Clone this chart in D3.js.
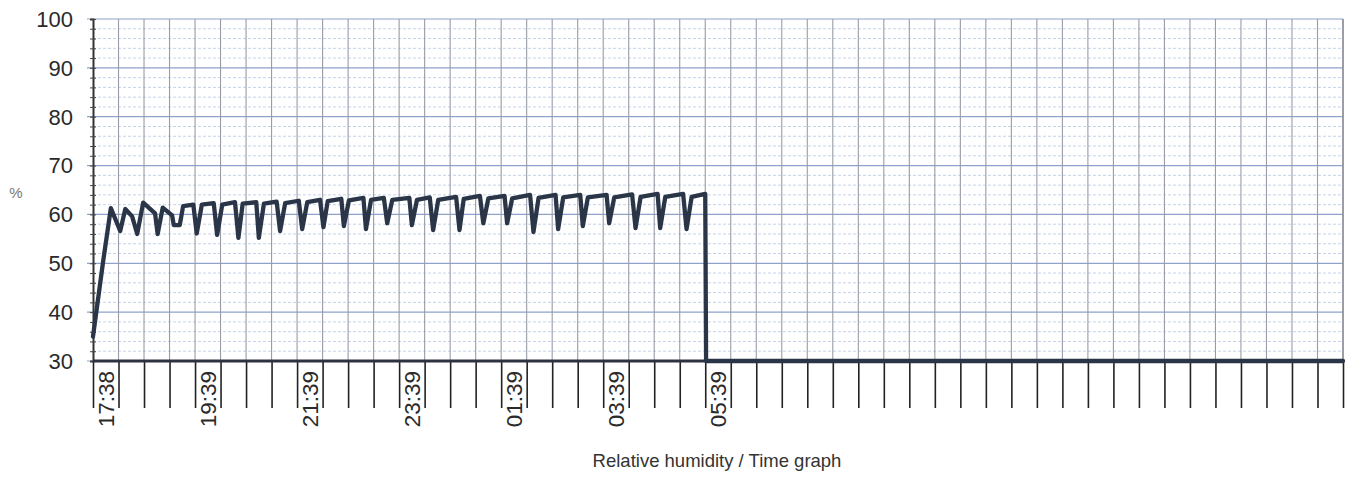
<!DOCTYPE html>
<html>
<head>
<meta charset="utf-8">
<script src="https://cdn.jsdelivr.net/npm/d3@7"></script>
<style>
  body { margin: 0; background: #fff; }
  svg { display: block; font-family: "Liberation Sans", Arial, sans-serif; }
</style>
</head>
<body>
<svg width="1351" height="477"></svg>
<script>
// minutes after 17:38 and relative humidity (%)
var minutes = [0, 12, 21, 32, 38, 46, 52, 59, 73, 76, 82, 93, 95, 102, 106, 118, 122, 128, 142, 146,
    152, 167, 171, 176, 192, 195, 201, 216, 220, 226, 242, 246, 252, 267, 271, 276, 292, 295, 301, 318,
    321, 327, 342, 346, 352, 372, 375, 381, 396, 400, 406, 427, 431, 436, 455, 459, 465, 484, 487, 493,
    514, 518, 524, 544, 547, 553, 573, 576, 582, 604, 607, 613, 634, 638, 644, 664, 667, 673, 694, 698,
    704, 720, 721, 1470];
var humidity = [35.0, 50.5, 61.3, 56.6, 61.1, 59.6, 56.0, 62.4, 60.2, 56.0, 61.4, 59.8, 57.8, 57.8, 61.7, 62.0, 56.1, 62.0, 62.3, 55.8,
    62.0, 62.5, 55.2, 62.2, 62.5, 55.2, 62.2, 62.6, 56.6, 62.3, 62.8, 57.0, 62.5, 63.0, 57.4, 62.7, 63.2, 57.6, 62.9, 63.4,
    57.0, 63.0, 63.4, 58.2, 63.0, 63.4, 57.8, 63.0, 63.5, 56.8, 63.0, 63.6, 56.8, 63.2, 63.8, 58.2, 63.3, 63.8, 58.2, 63.3,
    64.0, 56.4, 63.4, 64.0, 57.0, 63.5, 64.0, 57.6, 63.5, 64.0, 58.2, 63.5, 64.1, 57.2, 63.6, 64.2, 57.2, 63.6, 64.2, 57.0,
    63.6, 64.2, 30, 30];
var timeLabels = ["17:38", "19:39", "21:39", "23:39", "01:39", "03:39", "05:39"];
var yTicks = [30, 40, 50, 60, 70, 80, 90, 100];

var svg = d3.select("svg");
var plotLeft = 93, plotRight = 1343, plotTop = 19, plotBottom = 361;

var x = d3.scaleLinear().domain([0, 1470]).range([plotLeft, plotRight]);
var y = d3.scaleLinear().domain([30, 100]).range([plotBottom, plotTop]);
var xTicks = d3.range(0, 1471, 30);

// horizontal minor grid
svg.append("g").selectAll("line")
    .data(d3.range(32, 100, 2).filter(function(d){ return d % 10 != 0; }))
    .enter().append("line")
    .attr("x1", plotLeft).attr("x2", plotRight)
    .attr("y1", function(d){ return y(d); }).attr("y2", function(d){ return y(d); })
    .attr("stroke", "#c6d2ea").attr("stroke-width", 1).attr("stroke-dasharray", "3,2");

// horizontal major grid
svg.append("g").selectAll("line")
    .data(yTicks)
    .enter().append("line")
    .attr("x1", plotLeft - 6).attr("x2", plotRight)
    .attr("y1", function(d){ return y(d); }).attr("y2", function(d){ return y(d); })
    .attr("stroke", "#8ea2cc").attr("stroke-width", 1.2);

// vertical grid
svg.append("g").selectAll("line")
    .data(xTicks.slice(1))
    .enter().append("line")
    .attr("x1", function(d){ return x(d); }).attr("x2", function(d){ return x(d); })
    .attr("y1", plotTop).attr("y2", plotBottom)
    .attr("stroke", "#979ca6").attr("stroke-width", 1.1);

// y axis
var yAxis = d3.axisLeft(y).tickValues(d3.range(30, 101, 2)).tickSize(3).tickFormat("");
var gy = svg.append("g").attr("transform", "translate(" + plotLeft + ",0)").call(yAxis);
gy.select(".domain").attr("stroke", "#333").attr("stroke-width", 2);
gy.selectAll(".tick line").attr("stroke", "#444").attr("x2", 3).attr("x1", -3);

svg.append("g").selectAll("text")
    .data(yTicks)
    .enter().append("text")
    .attr("x", 73).attr("y", function(d){ return y(d); })
    .attr("dy", "0.36em")
    .attr("text-anchor", "end")
    .attr("font-size", 22)
    .attr("fill", "#2a2a2a")
    .text(function(d){ return d; });

svg.append("text")
    .attr("x", 16).attr("y", 198)
    .attr("text-anchor", "middle")
    .attr("font-size", 15)
    .attr("fill", "#777")
    .text("%");

// x axis
var xAxis = d3.axisBottom(x).tickValues(xTicks).tickSize(47)
    .tickFormat(function(d, i){ return (i % 4 == 0 && i / 4 < timeLabels.length) ? timeLabels[i / 4] : ""; });
var gx = svg.append("g").attr("transform", "translate(0," + plotBottom + ")").call(xAxis);
gx.select(".domain").remove();
gx.selectAll(".tick line").attr("stroke", "#222").attr("stroke-width", 1.6);
gx.selectAll(".tick text")
    .attr("transform", "rotate(-90)")
    .attr("text-anchor", "end")
    .attr("x", -10).attr("y", 12).attr("dy", "0.36em")
    .attr("font-size", 22.5)
    .attr("font-family", "\"Liberation Sans\", Arial, sans-serif")
    .attr("fill", "#2a2a2a");

// right border
svg.append("line")
    .attr("x1", plotRight).attr("x2", plotRight).attr("y1", plotTop).attr("y2", plotBottom)
    .attr("stroke", "#8c8f96").attr("stroke-width", 1.5);

// bottom axis line
svg.append("line")
    .attr("x1", plotLeft).attr("x2", plotRight).attr("y1", plotBottom).attr("y2", plotBottom)
    .attr("stroke", "#2c3240").attr("stroke-width", 3);

// humidity line
var points = minutes.map(function(m, i){ return [m, humidity[i]]; });
var line = d3.line()
    .x(function(d){ return x(d[0]); })
    .y(function(d){ return y(d[1]); });
svg.append("path")
    .datum(points)
    .attr("d", line)
    .attr("fill", "none")
    .attr("stroke", "#2a3548")
    .attr("stroke-width", 4.3)
    .attr("stroke-linejoin", "round")
    .attr("stroke-linecap", "round");

svg.append("text")
    .attr("x", 717).attr("y", 467)
    .attr("text-anchor", "middle")
    .attr("font-size", 18.5)
    .attr("fill", "#333")
    .text("Relative humidity / Time graph");
</script>
</body>
</html>
